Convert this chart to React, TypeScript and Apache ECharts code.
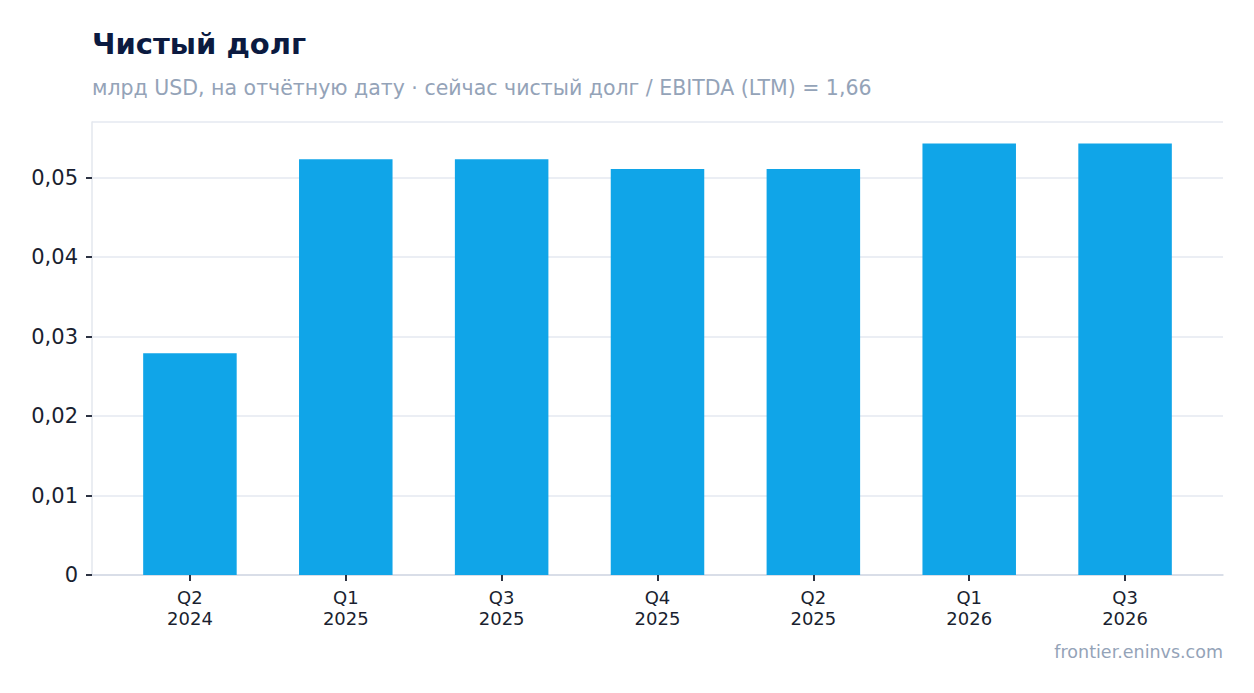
import React, { useEffect, useRef } from "react";
import * as echarts from "echarts";

const categories = ["Q2\n2024", "Q1\n2025", "Q3\n2025", "Q4\n2025", "Q2\n2025", "Q1\n2026", "Q3\n2026"];
const netDebt = [0.0279, 0.0523, 0.0523, 0.0511, 0.0511, 0.0543, 0.0543];
const yTicks = [0, 0.01, 0.02, 0.03, 0.04, 0.05];
const yMax = 0.057;

export default function App() {
  const ref = useRef<HTMLDivElement>(null);
  useEffect(() => {
    if (!ref.current) return;
    const chart = echarts.init(ref.current, undefined, { renderer: "svg" });
    const fmt = (v: number) => {
      const t = yTicks.find((x) => Math.abs(x - v) < 1e-9);
      if (t === undefined) return "";
      return t === 0 ? "0" : t.toFixed(2).replace(".", ",");
    };
    chart.setOption({
      animation: false,
      backgroundColor: "#ffffff",
      textStyle: { fontFamily: "DejaVu Sans" },
      title: {
        text: "Чистый долг",
        subtext: "млрд USD, на отчётную дату · сейчас чистый долг / EBITDA (LTM) = 1,66",
        left: 79,
        top: 16,
        itemGap: 19,
        textStyle: { fontFamily: "DejaVu Sans", fontSize: 29, fontWeight: "bold", color: "#0b1a40" },
        subtextStyle: { fontFamily: "DejaVu Sans", fontSize: 20.5, color: "#94a3b8" },
      },
      graphic: [
        {
          type: "text",
          right: 23,
          top: 635,
          style: { text: "frontier.eninvs.com", fontFamily: "DejaVu Sans", fontSize: 17.5, fill: "#94a3b8" },
        },
      ],
      grid: [
        { left: 84, right: 23, top: 114, bottom: 110, containLabel: false },
        { left: 104, right: 43, top: 114, bottom: 110, containLabel: false },
      ],
      xAxis: [
        {
          gridIndex: 0,
          type: "category",
          data: categories,
          axisLine: { lineStyle: { color: "#d3d9e4", width: 1.5 } },
          axisTick: { show: false },
          axisLabel: { show: false },
        },
        {
          gridIndex: 1,
          type: "category",
          data: categories,
          axisLine: { show: false },
          axisTick: { show: true, alignWithLabel: true, length: 6, lineStyle: { color: "#2d3343", width: 2 } },
          axisLabel: { color: "#1a1f30", fontSize: 18, lineHeight: 21, margin: 12, fontFamily: "DejaVu Sans" },
        },
      ],
      yAxis: [
        {
          gridIndex: 0,
          type: "value",
          min: 0,
          max: yMax,
          interval: 0.01,
          axisLine: { show: true, lineStyle: { color: "#e3e7ee", width: 1.5 } },
          axisTick: { show: true, length: 6, lineStyle: { color: "#2d3343", width: 2 } },
          splitLine: { lineStyle: { color: "#e5e9f0", width: 1.5 } },
          axisLabel: {
            color: "#1a1f30",
            fontSize: 21,
            margin: 14,
            fontFamily: "DejaVu Sans",
            showMaxLabel: false,
            formatter: fmt,
          },
        },
        {
          gridIndex: 1,
          type: "value",
          min: 0,
          max: yMax,
          interval: 0.01,
          axisLine: { show: false },
          axisTick: { show: false },
          splitLine: { show: false },
          axisLabel: { show: false },
        },
      ],
      series: [
        {
          type: "bar",
          xAxisIndex: 1,
          yAxisIndex: 1,
          data: netDebt,
          barWidth: "60%",
          itemStyle: { color: "#10a5e8" },
        },
      ],
    });
    return () => chart.dispose();
  }, []);
  return <div ref={ref} style={{ width: 1238, height: 677 }} />;
}
